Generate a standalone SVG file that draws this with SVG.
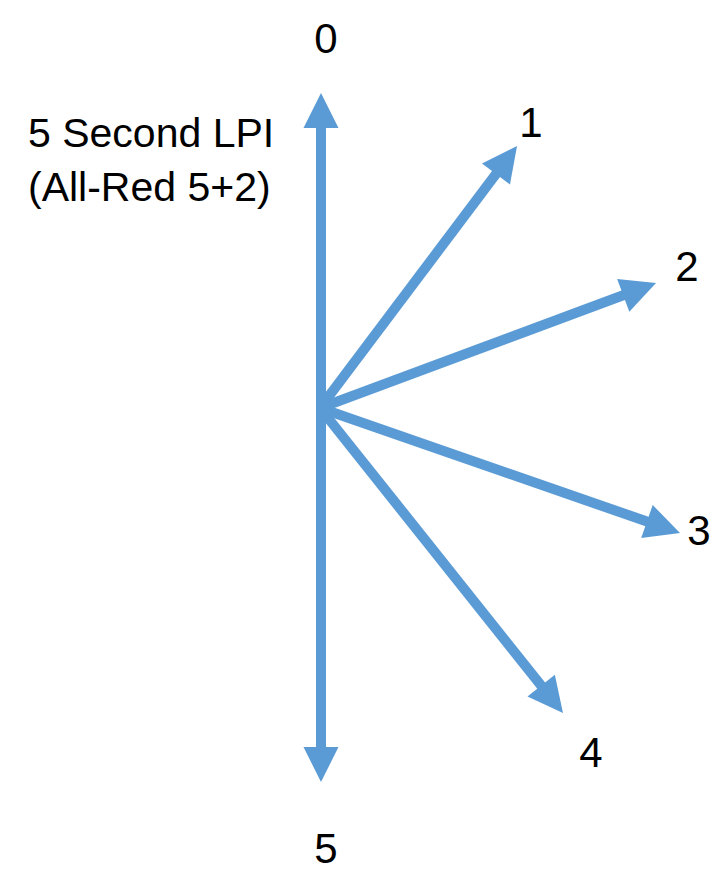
<svg xmlns="http://www.w3.org/2000/svg" width="717" height="879" viewBox="0 0 717 879">
  <style>
    .arr { stroke: #5B9BD5; stroke-width: 10; fill: none; marker-end: url(#head); }
    .lbl { font-family: "Liberation Sans", Arial, sans-serif; font-size: 42px; fill: #000; text-anchor: middle; }
    .note { font-family: "Liberation Sans", Arial, sans-serif; font-size: 41px; fill: #000; }
  </style>
  <defs>
    <marker id="head" markerUnits="userSpaceOnUse" markerWidth="35" markerHeight="35" refX="10" refY="17.5" orient="auto" overflow="visible">
      <path d="M0,0 L35,17.5 L0,35 z" fill="#5B9BD5"/>
    </marker>
    <marker id="headStart" markerUnits="userSpaceOnUse" markerWidth="35" markerHeight="35" refX="25" refY="17.5" orient="auto" overflow="visible">
      <path d="M35,0 L0,17.5 L35,35 z" fill="#5B9BD5"/>
    </marker>
  </defs>
  <rect width="717" height="879" fill="#fff"/>
  <g id="connectors">
    <line x1="321" y1="118" x2="321" y2="757" stroke="#5B9BD5" stroke-width="10" marker-start="url(#headStart)" marker-end="url(#head)"/>
    <line class="arr" x1="320" y1="408" x2="502" y2="166"/>
    <line class="arr" x1="320" y1="408" x2="632.6" y2="291.8"/>
    <line class="arr" x1="320" y1="408" x2="656.4" y2="524.8"/>
    <line class="arr" x1="320" y1="408" x2="547.4" y2="693.4"/>
  </g>
  <g id="title">
    <text class="note" x="28" y="147">5 Second LPI</text>
    <text class="note" x="28" y="201">(All-Red 5+2)</text>
  </g>
  <g id="n0"><text class="lbl" x="326" y="53">0</text></g>
  <g id="n1"><text class="lbl" x="531" y="137">1</text></g>
  <g id="n2"><text class="lbl" x="687" y="281">2</text></g>
  <g id="n3"><text class="lbl" x="699" y="545">3</text></g>
  <g id="n4"><text class="lbl" x="591" y="767">4</text></g>
  <g id="n5"><text class="lbl" x="326" y="863">5</text></g>
</svg>
